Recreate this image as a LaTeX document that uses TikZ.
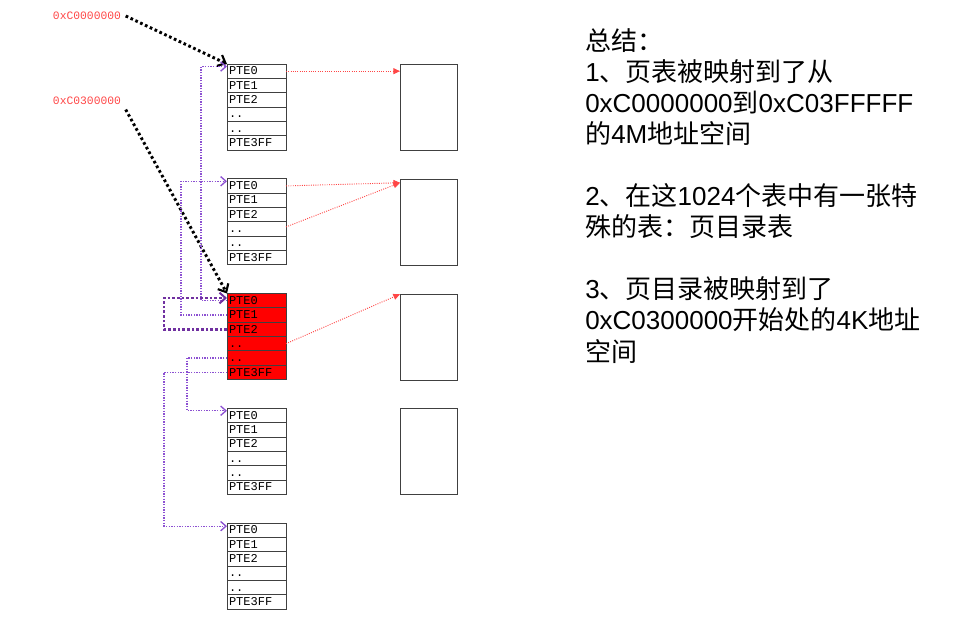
\documentclass[tikz,border=0pt]{standalone}
\usepackage{fontspec}
\setmainfont{Liberation Sans}
\setmonofont{Liberation Mono}
\newfontfamily\cjk{Noto Sans CJK SC}
\newcommand\hz[1]{{\cjk #1}}
\usetikzlibrary{positioning,arrows.meta}
\definecolor{maplink}{RGB}{255,70,70}
\definecolor{pdelink}{RGB}{140,80,210}
\definecolor{pdeself}{RGB}{112,48,160}
\definecolor{pdfill}{RGB}{255,0,0}
\tikzstyle{entry} = [rectangle,
    draw=black!75,
    line width=0.6pt,
    outer sep=0pt,
    inner xsep=1.5pt,
    inner ysep=0pt,
    text width=41.25pt,
    minimum height=10.75pt,
    text height=6pt,
    text depth=0.5pt,
    align=left,
    font=\ttfamily\fontsize{9}{9}\selectfont]
\tikzstyle{frame} = [rectangle,
    draw=black!75,
    line width=0.6pt,
    minimum width=42.75pt,
    minimum height=64.5pt,
    anchor=north west]
\tikzstyle{addr} = [text=maplink,
    font=\ttfamily\fontsize{8.5}{9}\selectfont]
\tikzstyle{vaddr} = [draw=black,
    line width=2.2pt,
    dash pattern=on 2pt off 2pt,
    -{Straight Barb[length=5pt,width=9pt,line width=1.6pt]}]
\tikzstyle{map} = [draw=maplink,
    line width=0.7pt,
    densely dotted,
    -{Triangle[length=5pt,width=4.5pt]}]
\tikzstyle{pde} = [draw=pdelink,
    line width=0.8pt,
    dash pattern=on 1pt off 1pt,
    -{Straight Barb[length=4pt,width=7pt,line width=1pt]}]
\tikzstyle{pdeloop} = [draw=pdeself,
    line width=2.2pt,
    dash pattern=on 2pt off 1.5pt,
    -{Straight Barb[length=4.5pt,width=8pt,line width=1.5pt]}]

\begin{document}
\begin{tikzpicture}[x=0.75pt, y=-0.75pt]
\useasboundingbox (0,0) rectangle (958,618);

% page tables, the red one is the page directory
\foreach \t/\top/\col in {1/64/white, 2/178.75/white, 3/293.5/pdfill, 4/408.25/white, 5/523/white} {
  \node (tbl\t-1) [entry, fill=\col, anchor=north west] at (227,\top) {PTE0};
  \node (tbl\t-2) [entry, fill=\col, below=0pt of tbl\t-1] {PTE1};
  \node (tbl\t-3) [entry, fill=\col, below=0pt of tbl\t-2] {PTE2};
  \node (tbl\t-4) [entry, fill=\col, below=0pt of tbl\t-3] {..};
  \node (tbl\t-5) [entry, fill=\col, below=0pt of tbl\t-4] {..};
  \node (tbl\t-6) [entry, fill=\col, below=0pt of tbl\t-5] {PTE3FF};
}

% physical pages
\foreach \t/\top in {1/64, 2/178.75, 3/293.5, 4/408.25} {
  \node (frame\t) [frame] at (400,\top) {};
}

\node (addr1) [addr] at (87,16) {0xC0000000};
\node (addr2) [addr] at (87,101) {0xC0300000};

\draw[vaddr] (addr1.east) -- (tbl1-1.north west);
\draw[vaddr] (addr2.south east) -- (tbl3-1.north west);

\draw[map] (tbl1-1.east) -- (tbl1-1.east -| frame1.west);
\draw[map] (tbl2-1.east) -- ([yshift=-3pt]frame2.north west);
\draw[map] ([yshift=1.5pt]tbl2-4.east) -- ([yshift=-3pt]frame2.north west);
\draw[map] (tbl3-4.east) -- ([yshift=-0.5pt]frame3.north west);

\draw[pde] (tbl3-1.west) -- ++(-26,0) |- ([yshift=3.5pt]tbl1-1.west);
\draw[pde] (tbl3-2.west) -- ++(-46,0) |- ([yshift=3.5pt]tbl2-1.west);
\draw[pdeloop] (tbl3-3.west) -- ++(-63,0) |- ([yshift=2pt]tbl3-1.west);
\draw[pde] (tbl3-5.west) -- ++(-40,0) |- ([yshift=3.5pt]tbl4-1.west);
\draw[pde] (tbl3-6.west) -- ++(-63,0) |- ([yshift=3pt]tbl5-1.west);

\node (summary) [anchor=base west, inner xsep=0pt, align=left, font=\fontsize{19.5}{23.3}\selectfont] at (585,361) {\hz{总结：}\\
1\hz{、页表被映射到了从}\\
0xC0000000\hz{到}0xC03FFFFF\\
\hz{的}4M\hz{地址空间}\\[23.3pt]
2\hz{、在这}1024\hz{个表中有一张特}\\
\hz{殊的表：页目录表}\\[23.3pt]
3\hz{、页目录被映射到了}\\
0xC0300000\hz{开始处的}4K\hz{地址}\\
\hz{空间}};
\end{tikzpicture}
\end{document}
